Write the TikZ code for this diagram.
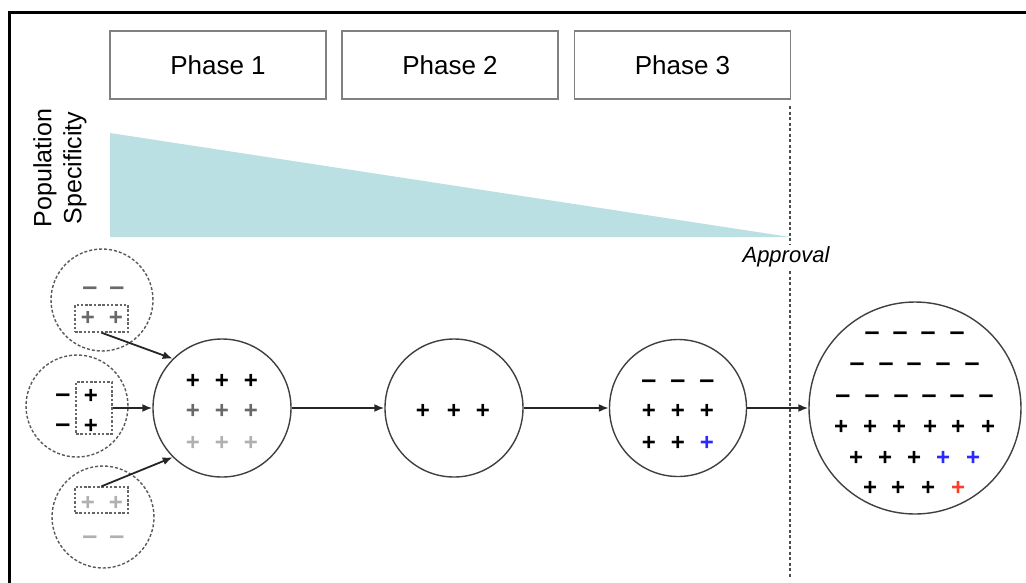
\documentclass[tikz,border=0pt]{standalone}
\usepackage{fontspec}
\setmainfont{Liberation Sans}
\usetikzlibrary{arrows.meta}
\definecolor{popteal}{RGB}{186,224,227}
\definecolor{midgray}{RGB}{105,105,105}
\definecolor{lightgray}{RGB}{176,176,176}
\definecolor{signblue}{RGB}{40,40,255}
\definecolor{signred}{RGB}{255,60,40}
\newcommand{\plusat}[4]{\node[sgn,text=#4] (#1) at (#2,#3+8.5) {+};}
\newcommand{\minusat}[4]{\node[sgnm,text=#4] (#1) at (#2,#3+7.6) {–};}
\begin{document}
\begin{tikzpicture}[x=1pt,y=-1pt,
  sgn/.style={inner sep=0pt,anchor=base,font=\bfseries\fontsize{24}{24}\selectfont},
  sgnm/.style={inner sep=0pt,anchor=base,font=\bfseries\fontsize{27}{27}\selectfont},
  phasebox/.style={draw=black!50,line width=1.3pt,minimum width=216pt,minimum height=68pt,inner sep=0pt,font=\fontsize{26}{26}\selectfont},
  popcirc/.style={circle,draw=black!75,line width=1.4pt,inner sep=0pt},
  subcirc/.style={circle,draw=black!65,dashed,dash pattern=on 3pt off 2pt,line width=1.4pt,inner sep=0pt,minimum size=102pt},
  subrect/.style={draw=black!60,dash pattern=on 2.5pt off 1.8pt,line width=1.4pt,inner sep=0pt},
  arr/.style={-{Latex[length=10pt,width=8pt]},line width=1.8pt,black!85}]
\useasboundingbox (0,0) rectangle (1026,582);
% frame
\draw[line width=3pt] (9,600) -- (9,12) -- (1040,12);
% phase boxes
\node[phasebox] (ph1) at (218,65) {Phase 1};
\node[phasebox] (ph2) at (450,65) {Phase 2};
\node[phasebox] (ph3) at (682.5,65) {Phase 3};
% population specificity wedge
\fill[popteal] (110,133) -- (110,237) -- (790,237) -- cycle;
\node[rotate=90,align=center,font=\fontsize{25}{30}\selectfont,inner sep=0pt] (pop) at (60,168) {Population\\Specificity};
% approval line
\coordinate (vt) at (790,106);
\coordinate (vb) at (790,578);
\draw[black!70,dash pattern=on 3pt off 2.5pt,line width=1.2pt] (vt) -- (vb);
\node[fill=white,inner sep=2pt,font=\itshape\fontsize{22}{22}\selectfont] (appr) at (786,257) {Approval};
% population circles
\node[popcirc,minimum size=138pt] (pc1) at (222,408) {};
\node[popcirc,minimum size=138pt] (pc2) at (454,408) {};
\node[popcirc,minimum size=137pt] (pc3) at (678,408) {};
\node[popcirc,minimum size=212pt] (pc4) at (915,408) {};
% subpopulation circles
\node[subcirc] (s1) at (102,300) {};
\node[subcirc] (s2) at (77,406) {};
\node[subcirc] (s3) at (103,517) {};
\node[subrect,minimum width=53pt,minimum height=27pt] (r1) at (101.5,318.5) {};
\node[subrect,minimum width=36pt,minimum height=52pt] (r2) at (94,408) {};
\node[subrect,minimum width=53pt,minimum height=26pt] (r3) at (101.5,500) {};
% subpopulation signs
\minusat{s1m1}{90}{288}{midgray}
\minusat{s1m2}{117}{288}{midgray}
\plusat{s1p1}{88}{317}{midgray}
\plusat{s1p2}{116}{317}{midgray}
\minusat{s2m1}{63}{395}{black}
\minusat{s2m2}{63}{425}{black}
\plusat{s2p1}{91}{395}{black}
\plusat{s2p2}{91}{425}{black}
\plusat{s3p1}{88}{502}{lightgray}
\plusat{s3p2}{116}{502}{lightgray}
\minusat{s3m1}{90}{537}{lightgray}
\minusat{s3m2}{117}{537}{lightgray}
% phase 1 signs
\foreach \x [count=\i] in {193,222,251}{
  \plusat{a\i}{\x}{380}{black}
  \plusat{b\i}{\x}{410}{midgray}
  \plusat{c\i}{\x}{442}{lightgray}
}
% phase 2 signs
\foreach \x [count=\i] in {423,454,483}{
  \plusat{d\i}{\x}{410}{black}
}
% phase 3 signs
\foreach \x [count=\i] in {649,678,707}{
  \minusat{e\i}{\x}{381}{black}
  \plusat{f\i}{\x}{410}{black}
}
\plusat{g1}{649}{442}{black}
\plusat{g2}{678}{442}{black}
\plusat{g3}{707}{442}{signblue}
% approval signs
\foreach \x [count=\i] in {872,900,928,957}{ \minusat{h\i}{\x}{333}{black} }
\foreach \x [count=\i] in {857,886,914,943,972}{ \minusat{k\i}{\x}{364}{black} }
\foreach \x [count=\i] in {843,872,901,929,957,986}{ \minusat{m\i}{\x}{396}{black} }
\foreach \x [count=\i] in {841,870,899,930,958,988}{ \plusat{n\i}{\x}{426}{black} }
\plusat{q1}{856}{457}{black}
\plusat{q2}{885}{457}{black}
\plusat{q3}{914}{457}{black}
\plusat{q4}{943}{457}{signblue}
\plusat{q5}{973}{457}{signblue}
\plusat{t1}{870}{487}{black}
\plusat{t2}{898}{487}{black}
\plusat{t3}{928}{487}{black}
\plusat{t4}{958}{487}{signred}
% connectors
\draw[arr] (r1.south) -- (pc1.135);
\draw[arr] (r2.east) -- (pc1.west);
\draw[arr] (r3.north) -- (pc1.225);
\draw[arr] (pc1.east) -- (pc2.west);
\draw[arr] (pc2.east) -- (pc3.west);
\draw[arr] (pc3.east) -- (pc4.west);
\end{tikzpicture}
\end{document}
